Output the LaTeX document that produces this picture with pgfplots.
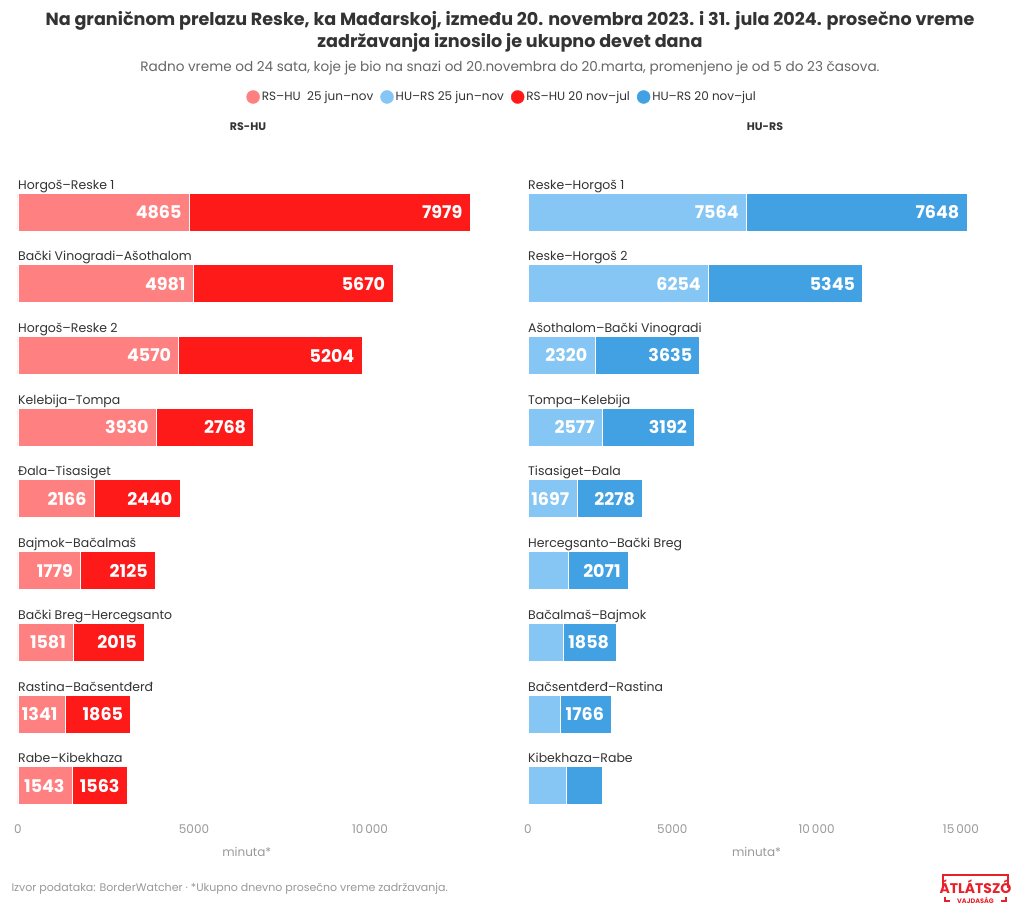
\documentclass[border=0pt]{standalone}
\usepackage{pgfplots}
\pgfplotsset{compat=1.18}
\usepackage{pgfplotstable}
\usepackage{fontspec}
\setmainfont{Poppins}
\definecolor{lred}{HTML}{FF8080}
\definecolor{dred}{HTML}{FF1A1A}
\definecolor{lblue}{HTML}{85C6F5}
\definecolor{dblue}{HTML}{42A1E3}
\definecolor{txt}{HTML}{333333}
\definecolor{sub}{HTML}{666666}
\definecolor{gr}{HTML}{999999}
\definecolor{logored}{HTML}{E8202A}

\pgfplotstableread{
y a b la lb
0 4865 7979 4865 7979
1 4981 5670 4981 5670
2 4570 5204 4570 5204
3 3930 2768 3930 2768
4 2166 2440 2166 2440
5 1779 2125 1779 2125
6 1581 2015 1581 2015
7 1341 1865 1341 1865
8 1543 1563 1543 1563
}\tabL

\pgfplotstableread{
y a b la lb
0 7564 7648 7564 7648
1 6254 5345 6254 5345
2 2320 3635 2320 3635
3 2577 3192 2577 3192
4 1697 2278 1697 2278
5 1405 2071 {} 2071
6 1216 1858 {} 1858
7 1134 1766 {} 1766
8 1340 1248 {} {}
}\tabR

\pgfplotsset{
  panel/.style={
    xbar stacked, scale only axis, height=641.8pt, bar width=38pt,
    ymin=-0.5, ymax=8.45, y dir=reverse, xmin=0,
    axis line style={draw=none}, ytick=\empty, major tick length=0pt,
    scaled x ticks=false,
    xticklabel style={text=gr, font=\fontsize{12}{14}\selectfont, yshift=-3pt},
    xlabel={minuta*}, xlabel style={text=gr, font=\fontsize{12}{14}\selectfont, yshift=-7pt},
    clip=false,
    nodes near coords, point meta=explicit symbolic,
    visualization depends on={rawx \as \segv},
  },
}
\tikzset{cat/.style={anchor=base west, inner sep=0pt, yshift=23pt, text=txt, font=\fontsize{12.5}{14}\selectfont}}

\begin{document}
\begin{tikzpicture}
\fill[white] (0pt,0pt) rectangle (1020pt,916pt);

\node[font=\bfseries\fontsize{17.6}{21.5}\selectfont, text=txt, align=center] at (510pt,884pt) {Na graničnom prelazu Reske, ka Mađarskoj, između 20. novembra 2023. i 31. jula 2024. prosečno vreme\\zadržavanja iznosilo je ukupno devet dana};
\node[font=\fontsize{13.6}{16}\selectfont, text=sub] at (510pt,848pt) {Radno vreme od 24 sata, koje je bio na snazi od 20.novembra do 20.marta, promenjeno je od 5 do 23 časova.};
\node[font=\bfseries\fontsize{11}{12}\selectfont, text=txt] at (248pt,789pt) {RS-HU};
\node[font=\bfseries\fontsize{11}{12}\selectfont, text=txt] at (765pt,789pt) {HU-RS};

\begin{axis}[panel, at={(18pt,98pt)}, anchor=south west, width=457.6pt, xmax=13000,
  xtick={0,5000,10000}, xticklabels={0,5000,10\,000},
  every node near coord/.style={anchor=east, xshift={0.0176*\segv-4}, text=white, font=\bfseries\fontsize{17.5}{19}\selectfont},
  legend columns=4,
  legend style={at={(1.058,1.1234)}, anchor=center, draw=none, fill=none,
    font=\fontsize{12}{14}\selectfont, text=txt,
    /tikz/every even column/.append style={column sep=5pt}},
  legend image code/.code={\fill[#1] (0.3cm,0cm) circle (6.5pt);},
]
\addplot[fill=lred, draw=white, line width=0.8pt, forget plot] table[x=a, y=y, meta=la] {\tabL};
\addplot[fill=dred, draw=white, line width=0.8pt, forget plot] table[x=b, y=y, meta=lb] {\tabL};
\addlegendimage{lred}
\addlegendentry{RS–HU\ \ 25 jun–nov}
\addlegendimage{lblue}
\addlegendentry{HU–RS 25 jun–nov}
\addlegendimage{dred}
\addlegendentry{RS–HU 20 nov–jul}
\addlegendimage{dblue}
\addlegendentry{HU–RS 20 nov–jul}
\node[cat] at (axis cs:0,0) {Horgoš–Reske 1};
\node[cat] at (axis cs:0,1) {Bački Vinogradi–Ašothalom};
\node[cat] at (axis cs:0,2) {Horgoš–Reske 2};
\node[cat] at (axis cs:0,3) {Kelebija–Tompa};
\node[cat] at (axis cs:0,4) {Đala–Tisasiget};
\node[cat] at (axis cs:0,5) {Bajmok–Bačalmaš};
\node[cat] at (axis cs:0,6) {Bački Breg–Hercegsanto};
\node[cat] at (axis cs:0,7) {Rastina–Bačsentđerđ};
\node[cat] at (axis cs:0,8) {Rabe–Kibekhaza};
\end{axis}

\begin{axis}[panel, at={(528pt,98pt)}, anchor=south west, width=457pt, xmax=15835,
  xtick={0,5000,10000,15000}, xticklabels={0,5000,10\,000,15\,000},
  every node near coord/.style={anchor=east, xshift={0.01443*\segv-4}, text=white, font=\bfseries\fontsize{17.5}{19}\selectfont},
]
\addplot[fill=lblue, draw=white, line width=0.8pt] table[x=a, y=y, meta=la] {\tabR};
\addplot[fill=dblue, draw=white, line width=0.8pt] table[x=b, y=y, meta=lb] {\tabR};
\node[cat] at (axis cs:0,0) {Reske–Horgoš 1};
\node[cat] at (axis cs:0,1) {Reske–Horgoš 2};
\node[cat] at (axis cs:0,2) {Ašothalom–Bački Vinogradi};
\node[cat] at (axis cs:0,3) {Tompa–Kelebija};
\node[cat] at (axis cs:0,4) {Tisasiget–Đala};
\node[cat] at (axis cs:0,5) {Hercegsanto–Bački Breg};
\node[cat] at (axis cs:0,6) {Bačalmaš–Bajmok};
\node[cat] at (axis cs:0,7) {Bačsentđerđ–Rastina};
\node[cat] at (axis cs:0,8) {Kibekhaza–Rabe};
\end{axis}

\node[anchor=west, font=\fontsize{11}{13}\selectfont, text=gr] at (8pt,27pt) {Izvor podataka: BorderWatcher · *Ukupno dnevno prosečno vreme zadržavanja.};
\draw[logored, line width=1.8pt] (943pt,28pt) |- (1008pt,41pt) -- (1008pt,28pt);
\draw[logored, line width=1.2pt] (945pt,19pt) |- (950pt,15pt);
\draw[logored, line width=1.2pt] (1006pt,19pt) |- (1001pt,15pt);
\node[font=\bfseries\fontsize{14}{15}\selectfont, text=logored, inner sep=0pt] at (975.5pt,29pt) {ÁTLÁTSZÓ};
\node[font=\bfseries\fontsize{6.5}{7}\selectfont, text=logored, inner sep=0pt] at (975.5pt,16pt) {VAJDASÁG};
\end{tikzpicture}
\end{document}
